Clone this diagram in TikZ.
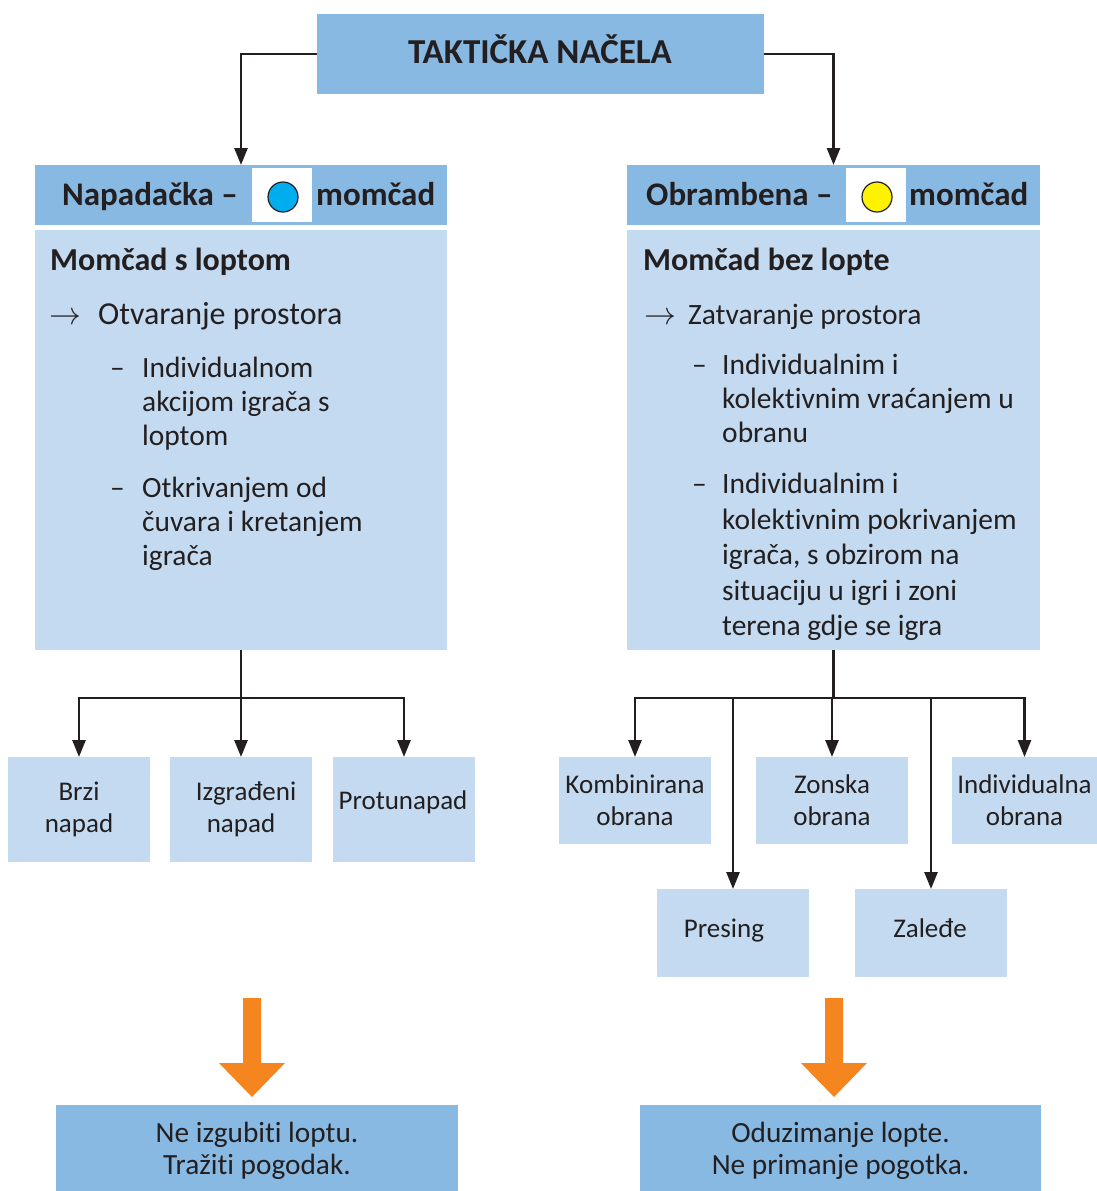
\documentclass[tikz,border=0pt]{standalone}
\usepackage{fontspec}
\usepackage{graphicx}
\setmainfont{Carlito}[Ligatures=NoCommon]
\usetikzlibrary{arrows.meta}
\definecolor{darkbox}{RGB}{136,185,227}
\definecolor{lightbox}{RGB}{195,218,240}
\definecolor{ink}{RGB}{35,31,32}
\definecolor{orangearr}{RGB}{245,134,31}
\definecolor{ballblue}{RGB}{0,174,239}
\definecolor{ballyellow}{RGB}{255,242,0}
\newcommand{\bigarrow}{\scalebox{1.28}{$\rightarrow$}}
\begin{document}
\begin{tikzpicture}[x=1pt,y=-1pt,
  box/.style={rectangle, inner sep=0pt, outer sep=0pt, text=ink},
  darkb/.style={box, fill=darkbox},
  lightb/.style={box, fill=lightbox},
  smallb/.style={lightb, align=center, font=\fontsize{27pt}{32pt}\selectfont},
  conn/.style={draw=ink, line width=2.6pt},
  arr/.style={conn, -{Triangle[width=13pt,length=17pt]}},
  txt/.style={text=ink, inner sep=0pt, anchor=base west},
  ttl/.style={txt, anchor=base, font=\fontsize{35pt}{40pt}\selectfont\bfseries},
  hdr/.style={txt, font=\fontsize{33pt}{38pt}\selectfont\bfseries},
  bhd/.style={txt, font=\fontsize{32pt}{38pt}\selectfont\bfseries},
  ltb/.style={txt, font=\fontsize{32pt}{38pt}\selectfont},
  lt/.style={txt, font=\fontsize{29.4pt}{34pt}\selectfont},
  rt/.style={txt, font=\fontsize{29.5pt}{35pt}\selectfont},
  btm/.style={box, fill=darkbox, align=center, font=\fontsize{29.3pt}{32pt}\selectfont},
  btmtxt/.style={text=ink, inner sep=0pt, align=center, font=\fontsize{29.3pt}{32pt}\selectfont},
  ball/.style={circle, draw=ink, line width=1.2pt, minimum size=30pt, inner sep=0pt},
  whitesq/.style={rectangle, fill=white, inner sep=0pt, minimum width=60pt, minimum height=54pt},
  orange/.style={fill=orangearr, draw=none}
]
\useasboundingbox[fill=white] (0,0) rectangle (1097,1191);

% title
\node[darkb, minimum width=447pt, minimum height=80pt] (title) at (540.5,54) {};
\node[ttl] (titletxt) at (540,63) {TAKTIČKA NAČELA};

% headers
\node[darkb, minimum width=412pt, minimum height=60pt] (lhead) at (241,195) {};
\node[darkb, minimum width=413pt, minimum height=60pt] (rhead) at (833.5,195) {};
\node[hdr] (lhtxt) at (62,205) {Napadačka –};
\node[whitesq] (lsq) at (282,195) {};
\node[ball, fill=ballblue] (lball) at (283,197) {};
\node[hdr] (lhtxt2) at (316,205) {momčad};
\node[hdr] (rhtxt) at (646,205) {Obrambena –};
\node[whitesq] (rsq) at (875.5,195) {};
\node[ball, fill=ballyellow] (rball) at (877,197) {};
\node[hdr] (rhtxt2) at (909,205) {momčad};

% bodies
\node[lightb, minimum width=412pt, minimum height=420pt] (lbody) at (241,440) {};
\node[lightb, minimum width=413pt, minimum height=420pt] (rbody) at (833.5,440) {};

\node[bhd] (lb1) at (50,270) {Momčad s loptom};
\node[ltb] (la) at (49,324) {\bigarrow};
\node[ltb] (lb2) at (98,324) {Otvaranje prostora};
\node[lt] (ld1) at (110,377) {–};
\node[lt] (l11) at (142,377) {Individualnom};
\node[lt] (l12) at (142,411) {akcijom igrača s};
\node[lt] (l13) at (142,445) {loptom};
\node[lt] (ld2) at (110,497) {–};
\node[lt] (l21) at (142,497) {Otkrivanjem od};
\node[lt] (l22) at (142,531) {čuvara i kretanjem};
\node[lt] (l23) at (142,565) {igrača};

\node[bhd] (rb1) at (643,270) {Momčad bez lopte};
\node[rt] (ra) at (644,324) {\bigarrow};
\node[rt] (rb2) at (688,324) {Zatvaranje prostora};
\node[rt] (rd1) at (692,374) {–};
\node[rt] (r11) at (722,374) {Individualnim i};
\node[rt] (r12) at (722,408) {kolektivnim vraćanjem u};
\node[rt] (r13) at (722,442) {obranu};
\node[rt] (rd2) at (692,493) {–};
\node[rt] (r21) at (722,493) {Individualnim i};
\node[rt] (r22) at (722,529) {kolektivnim pokrivanjem};
\node[rt] (r23) at (722,564) {igrača, s obzirom na};
\node[rt] (r24) at (722,600) {situaciju u igri i zoni};
\node[rt] (r25) at (722,635) {terena gdje se igra};

% small boxes left
\node[smallb, minimum width=142pt, minimum height=105pt] (brzi) at (79,809.5) {Brzi\\napad};
\node[smallb, minimum width=142pt, minimum height=105pt] (izg) at (241,809.5) {\hspace{10pt}Izgrađeni\\napad};
\node[lightb, minimum width=142pt, minimum height=105pt] (protu) at (404,809.5) {};
\node[txt, anchor=base, font=\fontsize{27pt}{32pt}\selectfont] (protutxt) at (403,809) {Protunapad};

% small boxes right
\node[smallb, minimum width=152pt, minimum height=87pt] (komb) at (635,800.5) {Kombinirana\\obrana};
\node[smallb, minimum width=152pt, minimum height=87pt] (zon) at (832,800.5) {Zonska\\obrana};
\node[smallb, minimum width=145pt, minimum height=87pt] (ind) at (1024.5,800.5) {Individualna\\obrana};
\node[lightb, minimum width=152pt, minimum height=88pt] (pres) at (733,933) {};
\node[txt, anchor=base, font=\fontsize{27pt}{32pt}\selectfont] (prestxt) at (724,937) {Presing};
\node[lightb, minimum width=152pt, minimum height=88pt] (zal) at (931,933) {};
\node[txt, anchor=base, font=\fontsize{27pt}{32pt}\selectfont] (zaltxt) at (930,937) {Zaleđe};

% bottom boxes
\node[btm, minimum width=402pt, minimum height=86pt] (lres) at (257,1148) {};
\node[btmtxt] (lrestxt) at (257,1151) {Ne izgubiti loptu.\\Tražiti pogodak.};
\node[btm, minimum width=401pt, minimum height=86pt] (rres) at (840.5,1148) {};
\node[btmtxt] (rrestxt) at (840.5,1151) {Oduzimanje lopte.\\Ne primanje pogotka.};

% connectors
\draw[arr] (title.west) -| (lhead.north);
\draw[arr] (title.east) -| (rhead.north);

\coordinate (lbus) at (241,698);
\draw[conn] (lbody.south) -- (lbus);
\draw[arr] (lbus) -| (brzi.north);
\draw[arr] (lbus) -| (protu.north);
\draw[arr] (lbus) -- (izg.north);

\coordinate (rbus) at (833.5,698);
\draw[conn] (rbody.south) -- (rbus);
\draw[arr] (rbus) -| (komb.north);
\draw[arr] (rbus) -| (ind.north);
\draw[arr] (rbus) -| (zon.north);
\draw[arr] (rbus) -| (pres.north);
\draw[arr] (rbus) -| (zal.north);

% orange arrows
\fill[orange] (243,998) -- (261,998) -- (261,1063) -- (285,1063) -- (252,1097) -- (219,1063) -- (243,1063) -- cycle;
\fill[orange] (825,998) -- (843,998) -- (843,1063) -- (867,1063) -- (834,1097) -- (801,1063) -- (825,1063) -- cycle;
\end{tikzpicture}
\end{document}
